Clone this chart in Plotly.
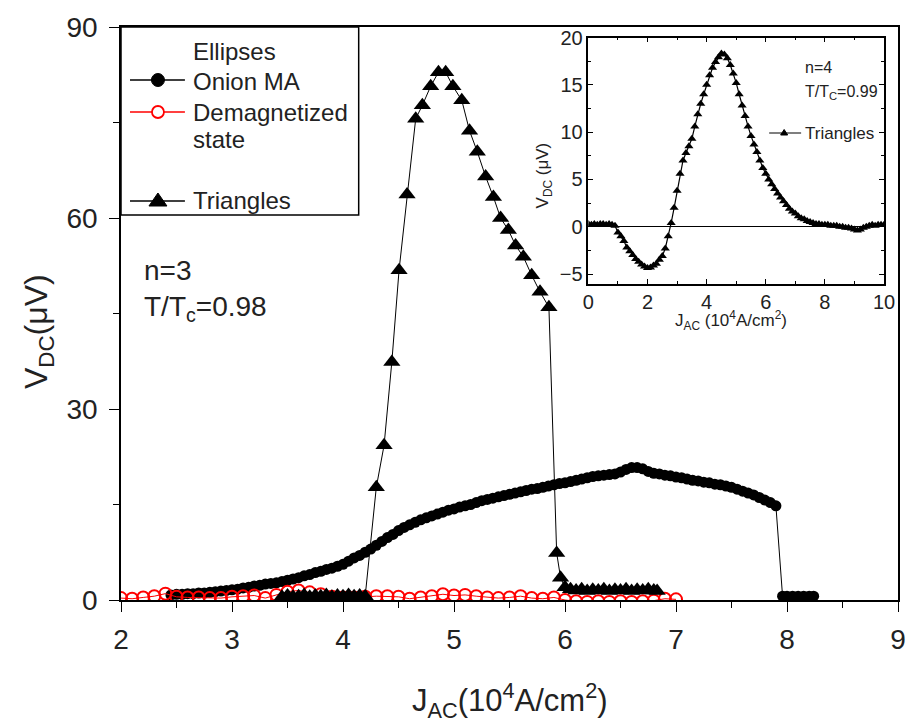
import plotly.graph_objects as go

# ---------------- data ----------------
onion_x = [2.45, 2.50, 2.55, 2.60, 2.65, 2.70, 2.75, 2.80, 2.85, 2.90, 2.95, 3.00,
           3.05, 3.10, 3.15, 3.20, 3.25, 3.30, 3.35, 3.40, 3.45, 3.50, 3.55, 3.60,
           3.65, 3.70, 3.75, 3.80, 3.85, 3.90, 3.95, 4.00, 4.05, 4.10, 4.15, 4.20,
           4.25, 4.30, 4.35, 4.40, 4.45, 4.50, 4.55, 4.60, 4.65, 4.70, 4.75, 4.80,
           4.85, 4.90, 4.95, 5.00, 5.05, 5.10, 5.15, 5.20, 5.25, 5.30, 5.35, 5.40,
           5.45, 5.50, 5.55, 5.60, 5.65, 5.70, 5.75, 5.80, 5.85, 5.90, 5.95, 6.00,
           6.05, 6.10, 6.15, 6.20, 6.25, 6.30, 6.35, 6.40, 6.45, 6.50, 6.55, 6.60,
           6.65, 6.70, 6.75, 6.80, 6.85, 6.90, 6.95, 7.00, 7.05, 7.10, 7.15, 7.20,
           7.25, 7.30, 7.35, 7.40, 7.45, 7.50, 7.55, 7.60, 7.65, 7.70, 7.75, 7.80,
           7.85, 7.90, 7.96, 8.00, 8.05, 8.10, 8.15, 8.20, 8.24]
onion_y = [0.8, 0.9, 0.9, 1.0, 1.0, 1.1, 1.1, 1.2, 1.3, 1.4, 1.5, 1.6,
           1.7, 1.9, 2.0, 2.2, 2.3, 2.5, 2.6, 2.7, 2.9, 3.1, 3.3, 3.5,
           3.8, 4.0, 4.3, 4.5, 4.8, 5.0, 5.3, 5.6, 6.1, 6.6, 7.0, 7.5,
           8.0, 8.6, 9.2, 9.8, 10.3, 10.9, 11.4, 11.8, 12.2, 12.6, 12.9, 13.2,
           13.5, 13.8, 14.1, 14.3, 14.6, 14.8, 15.0, 15.3, 15.6, 15.8, 16.0, 16.2,
           16.4, 16.6, 16.8, 17.0, 17.2, 17.4, 17.5, 17.7, 17.9, 18.1, 18.3, 18.4,
           18.6, 18.8, 19.0, 19.2, 19.4, 19.5, 19.6, 19.7, 19.8, 20.1, 20.5, 20.8,
           20.8, 20.6, 20.2, 19.9, 19.8, 19.6, 19.5, 19.3, 19.2, 19.0, 18.8, 18.7,
           18.5, 18.4, 18.2, 18.1, 17.9, 17.7, 17.4, 17.1, 16.8, 16.5, 16.1, 15.7,
           15.3, 14.8, 0.6, 0.6, 0.6, 0.6, 0.6, 0.6, 0.6]

demag_x = [2.0, 2.1, 2.2, 2.3, 2.4, 2.5, 2.6, 2.7, 2.8, 2.9,
           3.0, 3.1, 3.2, 3.3, 3.4, 3.5, 3.6, 3.7, 3.8, 3.9,
           4.0, 4.1, 4.2, 4.3, 4.4, 4.5, 4.6, 4.7, 4.8, 4.9,
           5.0, 5.1, 5.2, 5.3, 5.4, 5.5, 5.6, 5.7, 5.8, 5.9,
           6.0, 6.1, 6.2, 6.3, 6.4, 6.5, 6.6, 6.7, 6.8, 6.9, 7.0]
demag_y = [0.3, 0.2, 0.4, 0.6, 1.0, 0.5, 0.4, 0.4, 0.3, 0.3,
           0.5, 0.6, 0.7, 0.3, 0.8, 1.3, 1.5, 1.2, 0.9, 0.5,
           0.4, 0.4, 0.5, 0.6, 0.6, 0.5, 0.2, 0.4, 0.6, 0.9,
           0.7, 0.8, 0.6, 0.4, 0.3, 0.4, 0.6, 0.3, 0.2, 0.4,
           0.0, -0.2, -0.3, -0.2, -0.3, -0.2, -0.3, -0.2, -0.1, 0.2, 0.1]

tri_x = [3.45, 3.50, 3.55, 3.60, 3.65, 3.70, 3.75, 3.80, 3.85, 3.90, 3.95, 4.00,
         4.05, 4.10, 4.15, 4.20,
         4.30, 4.37, 4.44, 4.505, 4.577, 4.655, 4.715, 4.79, 4.86, 4.925, 4.99,
         5.07, 5.14, 5.21, 5.285, 5.355, 5.42, 5.49, 5.555, 5.625, 5.70, 5.775,
         5.855, 5.925, 5.96,
         6.00, 6.05, 6.10, 6.15, 6.20, 6.25, 6.30, 6.35, 6.40, 6.45, 6.50, 6.55,
         6.60, 6.65, 6.70, 6.75, 6.80, 6.83]
tri_y = [0.5, 0.7, 0.5, 0.6, 0.8, 0.5, 0.7, 0.6, 0.8, 0.5, 0.7, 0.6,
         0.8, 0.6, 0.7, 0.6,
         17.7, 24.3, 37.4, 51.8, 63.7, 75.6, 77.7, 80.7, 82.9, 82.9, 80.7,
         78.5, 73.7, 70.4, 66.5, 63.3, 60.0, 58.1, 55.7, 53.9, 51.0, 48.4,
         46.0, 7.4, 3.5,
         2.0, 1.7, 1.5, 1.7, 1.4, 1.6, 1.5, 1.7, 1.4, 1.6, 1.5, 1.7,
         1.4, 1.6, 1.5, 1.7, 1.5, 1.4]

inset_x = [round(0.1 * i, 1) for i in range(101)]
inset_y = [0.3, 0.2, 0.3, 0.2, 0.3, 0.3, 0.2, 0.3, 0.2, 0.1,
           -0.6, -1.0, -1.5, -2.2, -2.6, -3.0, -3.4, -3.7, -4.0, -4.2,
           -4.35, -4.3, -4.1, -3.9, -3.5, -3.1, -2.3, -1.0, 0.4, 2.0,
           3.8, 5.6, 7.0, 7.8, 8.5, 9.3, 10.6, 11.9, 13.0, 14.0,
           15.0, 16.0, 16.8, 17.4, 17.9, 18.3, 18.2, 17.8, 17.1, 16.2,
           15.2, 14.0, 12.8, 11.7, 10.6, 9.6, 8.7, 7.9, 7.0, 6.2,
           5.6, 5.0, 4.5, 4.0, 3.5, 3.1, 2.7, 2.3, 1.9, 1.6,
           1.4, 1.1, 0.9, 0.8, 0.6, 0.5, 0.4, 0.3, 0.3, 0.2,
           0.2, 0.2, 0.1, 0.1, 0.1, 0.0, 0.0, -0.1, -0.1, -0.2,
           -0.3, -0.4, -0.3, -0.1, 0.0, 0.1, 0.2, 0.1, 0.2, 0.2, 0.2]

main_xticks = [2, 3, 4, 5, 6, 7, 8, 9]
main_yticks = [0, 30, 60, 90]
inset_xticks = [0, 2, 4, 6, 8, 10]
inset_yticks = [-5, 0, 5, 10, 15, 20]

legend_names = ["Ellipses", "Onion MA", "Demagnetized", "state", "Triangles"]

# ---------------- layout helpers ----------------
# the captured page appears ~1.3% wider than 909 px, so horizontal pixel
# positions are scaled by SX to land where the reference has them
W_REF, H = 909, 728
SX = 921 / 909
W = round(W_REF * SX)
L, R, T, B = 119, 897, 27, 600


def X(px):
    return (px - L) / (R - L)


def Y(py):
    return (B - py) / (B - T)


FONT = "Arial, Liberation Sans, sans-serif"
RED = "#ff0000"

fig = go.Figure()

fig.add_trace(go.Scatter(
    x=onion_x, y=onion_y, mode="lines+markers", name="Onion MA",
    line=dict(color="black", width=1),
    marker=dict(symbol="circle", size=11, color="black"),
    showlegend=False, xaxis="x", yaxis="y"))

fig.add_trace(go.Scatter(
    x=demag_x, y=demag_y, mode="lines+markers", name="Demagnetized state",
    line=dict(color=RED, width=1),
    marker=dict(symbol="circle-open", size=12, color=RED, line=dict(width=2, color=RED)),
    showlegend=False, xaxis="x", yaxis="y"))

fig.add_trace(go.Scatter(
    x=tri_x, y=tri_y, mode="lines+markers", name="Triangles",
    line=dict(color="black", width=1),
    marker=dict(symbol="triangle-up", size=15, color="black"),
    showlegend=False, xaxis="x", yaxis="y"))

fig.add_trace(go.Scatter(
    x=inset_x, y=inset_y, mode="lines+markers", name="Triangles (n=4)",
    line=dict(color="black", width=1.2),
    marker=dict(symbol="triangle-up", size=8, color="black"),
    showlegend=False, xaxis="x2", yaxis="y2"))

axis_common = dict(showline=True, linecolor="black", linewidth=1.5, mirror=True,
                   showgrid=False, zeroline=False, ticks="outside", tickcolor="black",
                   tickwidth=1.2, ticklen=10,
                   tickfont=dict(family=FONT, size=28, color="#222"))

fig.update_layout(
    width=W, height=H,
    margin=dict(l=L * SX, r=(W_REF - R) * SX, t=T, b=H - B, pad=0),
    paper_bgcolor="white", plot_bgcolor="white",
    showlegend=False,
    xaxis=dict(range=[2, 9], tickvals=main_xticks, domain=[0, 1],
               minor=dict(dtick=0.5, ticklen=6, ticks="outside", tickcolor="black", tickwidth=1.2),
               ticklabelstandoff=4, **axis_common),
    yaxis=dict(range=[0, 90], tickvals=main_yticks, domain=[0, 1],
               minor=dict(dtick=15, ticklen=6, ticks="outside", tickcolor="black", tickwidth=1.2),
               ticklabelstandoff=6, **axis_common),
    xaxis2=dict(range=[0, 10], tickvals=inset_xticks, anchor="y2",
                domain=[X(587), X(883)],
                showline=True, linecolor="black", linewidth=1.5, mirror="ticks",
                showgrid=False, zeroline=False, ticks="inside", ticklen=5,
                tickcolor="black", tickwidth=1.2,
                minor=dict(dtick=1, ticklen=3, ticks="inside", tickcolor="black"),
                tickfont=dict(family=FONT, size=20, color="#222")),
    yaxis2=dict(range=[-6, 20], tickvals=inset_yticks, anchor="x2",
                domain=[Y(283.5), Y(37.5)],
                showline=True, linecolor="black", linewidth=1.5, mirror="ticks",
                showgrid=False, zeroline=True, zerolinecolor="black", zerolinewidth=1.2,
                ticks="inside", ticklen=5, tickcolor="black", tickwidth=1.2,
                minor=dict(dtick=2.5, ticklen=3, ticks="inside", tickcolor="black"),
                tickfont=dict(family=FONT, size=20, color="#222")),
)

ann = []


def text(s, x, y, size, xanchor="left", yanchor="middle", angle=0, color="#222"):
    ann.append(dict(text=s, x=X(x), y=Y(y), xref="paper", yref="paper",
                    xanchor=xanchor, yanchor=yanchor, showarrow=False, textangle=angle,
                    font=dict(family=FONT, size=size, color=color)))


# axis titles
text("V<sub>DC</sub>(μV)", 36, 332, 32, xanchor="center", angle=-90)
text("J<sub>AC</sub>(10<sup>4</sup>A/cm<sup>2</sup>)", 508, 700, 31, xanchor="center")
# main annotations
text("n=3", 140, 270, 28)
text("T/T<sub>c</sub>=0.98", 140, 308, 28)
# inset texts
text("V<sub>DC</sub> (μV)", 543, 175, 17, xanchor="center", angle=-90)
text("J<sub>AC</sub> (10<sup>4</sup>A/cm<sup>2</sup>)", 730, 320, 17, xanchor="center")
text("n=4", 802, 67, 16)
text("T/T<sub>C</sub>=0.99", 802, 92, 16)
text("Triangles", 802, 133, 17)

# legend texts
legend_y = [51, 81, 112, 139, 200]
for name, yy in zip(legend_names, legend_y):
    text(name, 189, yy, 24)

fig.update_layout(annotations=ann)

shapes = []
# legend box
shapes.append(dict(type="rect", xref="paper", yref="paper", x0=X(L), x1=X(357),
                   y0=Y(215), y1=Y(T), line=dict(color="black", width=1.5),
                   fillcolor="white", layer="between"))
# legend line samples
for yy, col in [(80, "black"), (112, RED), (201, "black")]:
    shapes.append(dict(type="line", xref="paper", yref="paper", x0=X(128), x1=X(183),
                       y0=Y(yy), y1=Y(yy), line=dict(color=col, width=1.3)))
# legend symbols
shapes.append(dict(type="circle", xref="paper", yref="paper", xsizemode="pixel",
                   ysizemode="pixel", xanchor=X(156), yanchor=Y(80),
                   x0=-6.5, x1=6.5, y0=-6.5, y1=6.5,
                   line=dict(color="black", width=1), fillcolor="black"))
shapes.append(dict(type="circle", xref="paper", yref="paper", xsizemode="pixel",
                   ysizemode="pixel", xanchor=X(156), yanchor=Y(112),
                   x0=-6, x1=6, y0=-6, y1=6,
                   line=dict(color=RED, width=1.8), fillcolor="white"))
shapes.append(dict(type="path", xref="paper", yref="paper", xsizemode="pixel",
                   ysizemode="pixel", xanchor=X(156), yanchor=Y(201),
                   path="M -9,-5 L 9,-5 L 0,8 Z",
                   line=dict(color="black", width=1), fillcolor="black"))
# inset legend sample
shapes.append(dict(type="line", xref="paper", yref="paper", x0=X(768), x1=X(800),
                   y0=Y(133), y1=Y(133), line=dict(color="black", width=1.2)))
shapes.append(dict(type="path", xref="paper", yref="paper", xsizemode="pixel",
                   ysizemode="pixel", xanchor=X(783), yanchor=Y(133),
                   path="M -3.5,-2 L 3.5,-2 L 0,3.5 Z",
                   line=dict(color="black", width=1), fillcolor="black"))
fig.update_layout(shapes=shapes)

fig.write_html("out.html",
               config={"displayModeBar": False},
               post_script="document.body.style.margin='0px';"
                           "document.body.style.overflow='hidden';")
